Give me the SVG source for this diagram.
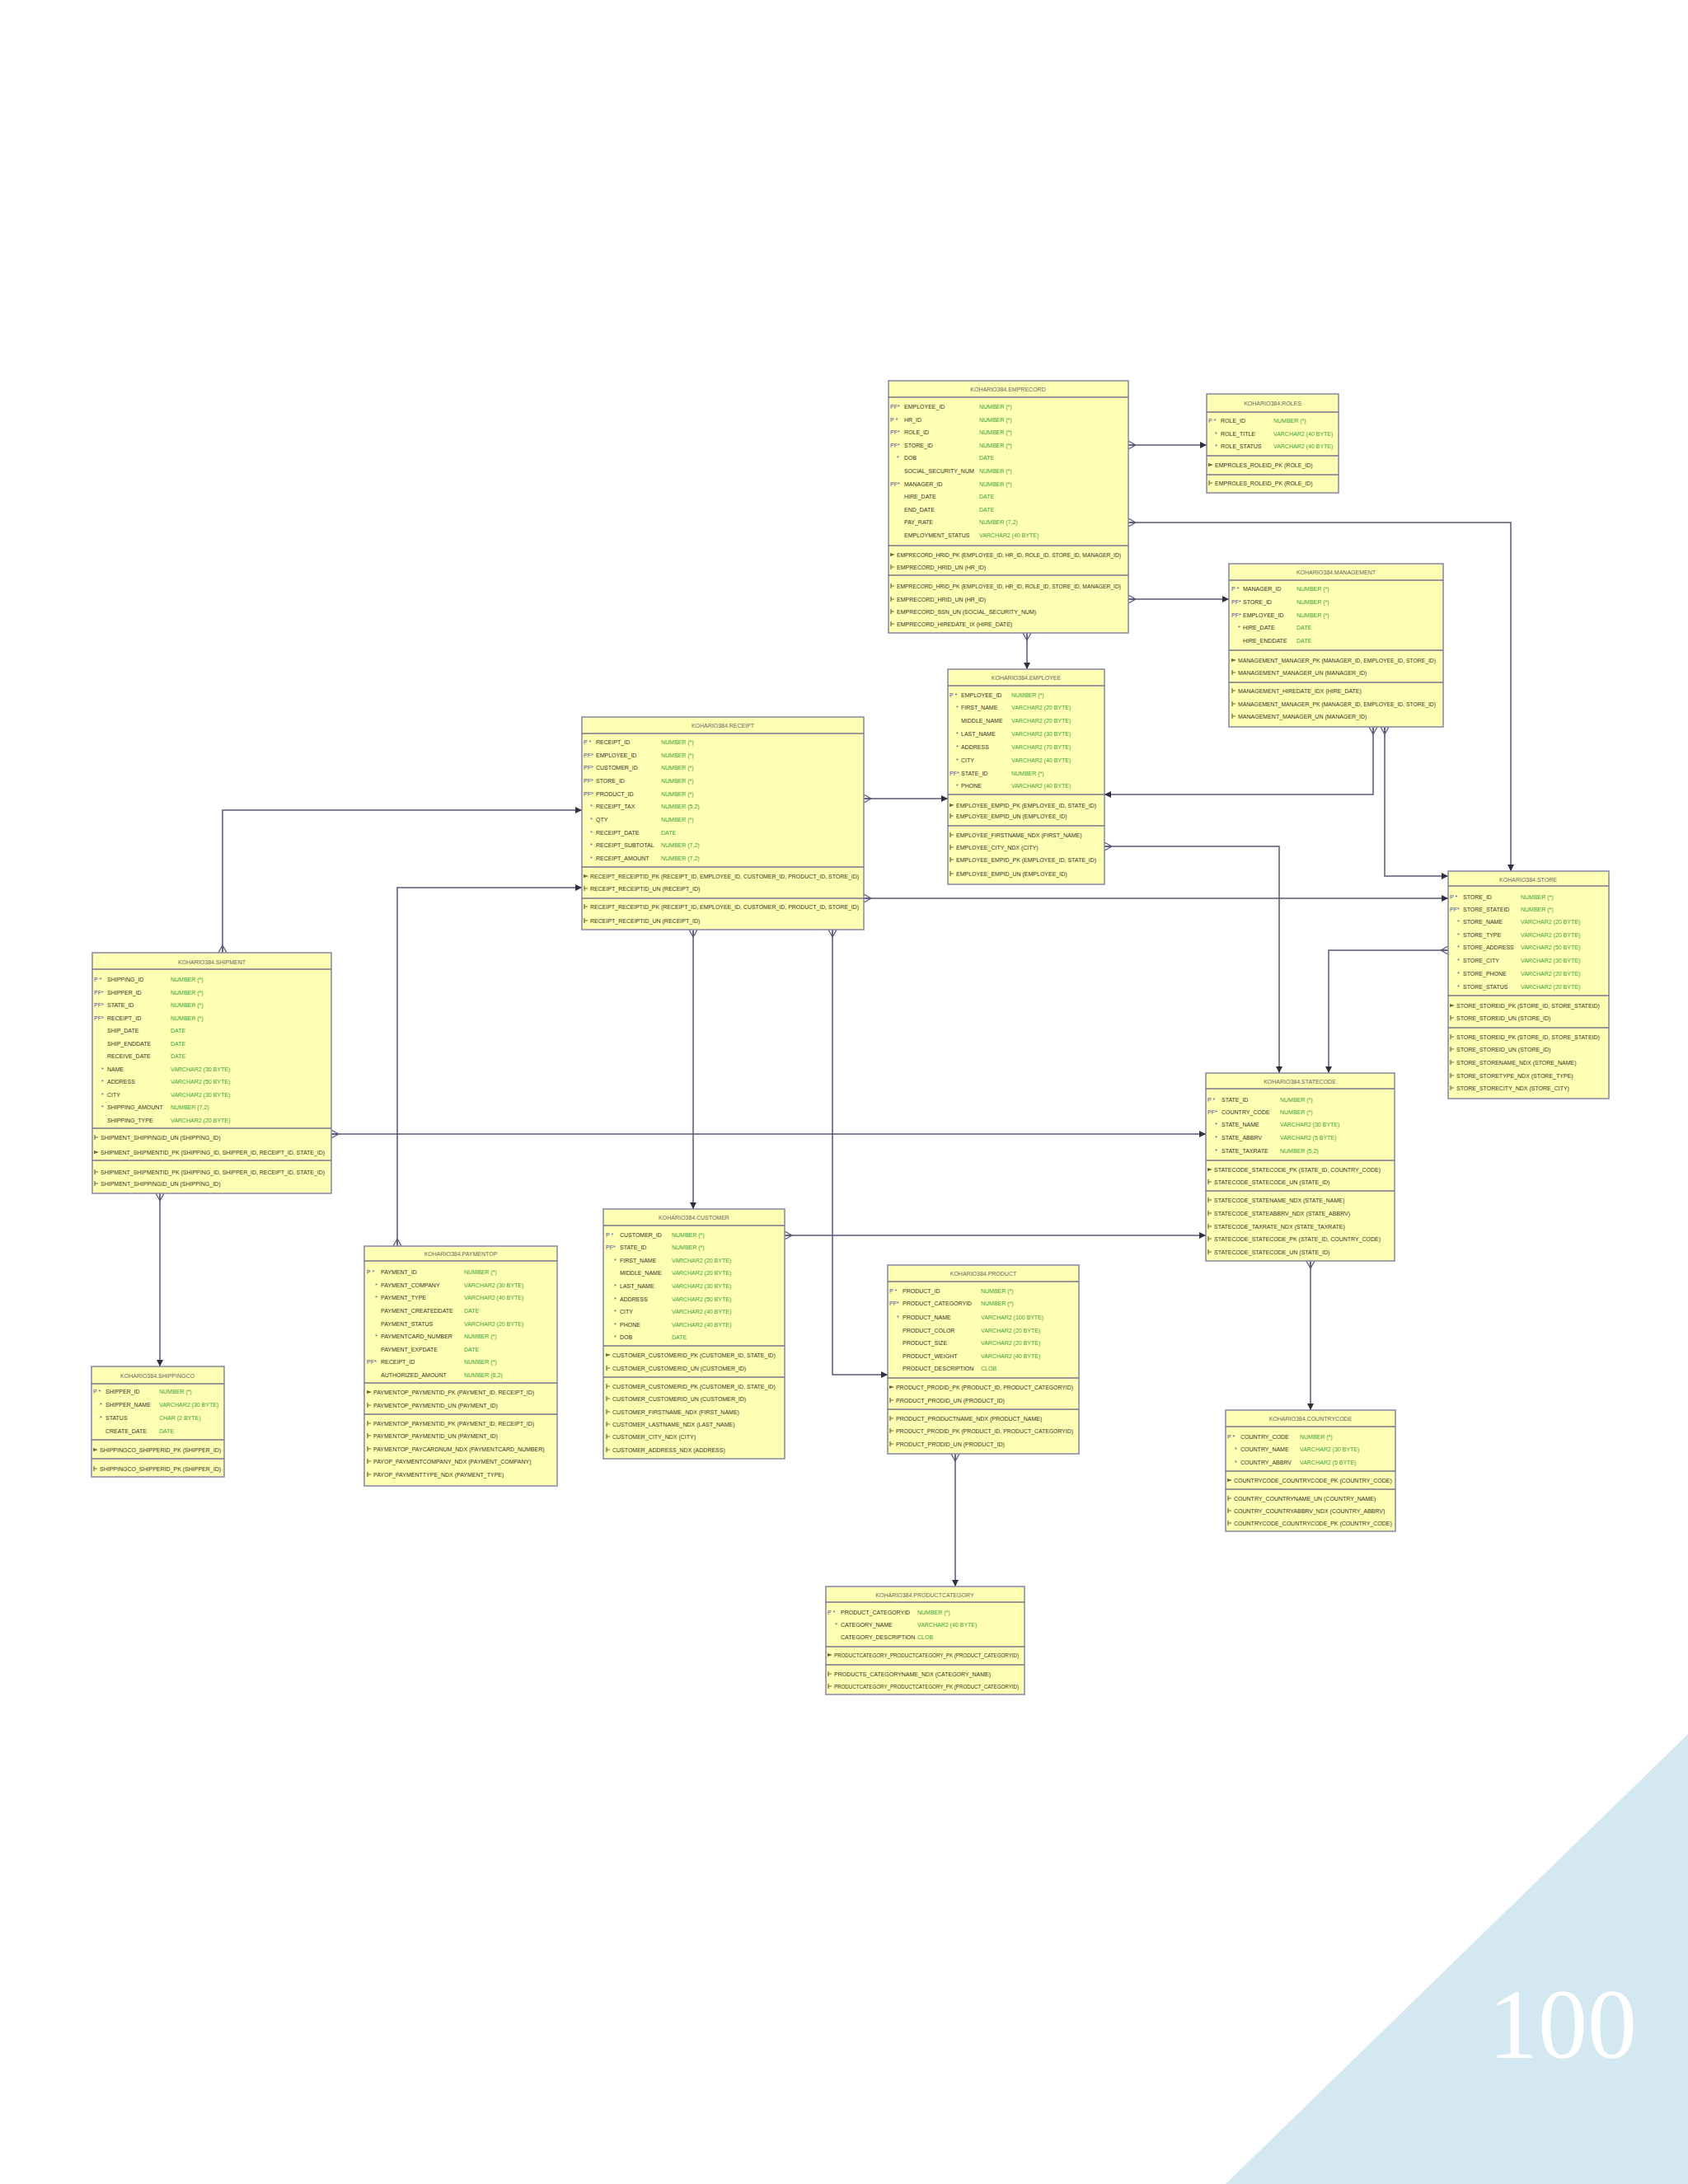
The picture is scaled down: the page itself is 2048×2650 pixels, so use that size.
<svg xmlns="http://www.w3.org/2000/svg" xmlns:xlink="http://www.w3.org/1999/xlink" width="2048" height="2650" viewBox="0 0 2048 2650">
<style>
.box{fill:#ffffb4;stroke:#8c8cab;stroke-width:1.6}
.sep{stroke:#76768a;stroke-width:1.5}
text{font-family:"Liberation Sans",Arial,sans-serif;font-size:7px}
.ti{fill:#666;text-anchor:middle}
.n{fill:#33331f}
.ty{fill:#3aa03a}
.p{fill:#4a4aa0}
.k{fill:#33331f}
.conn path{fill:none;stroke:#585878;stroke-width:1.5}
</style>
<defs>
<marker id="crow" markerUnits="userSpaceOnUse" markerWidth="14" markerHeight="14" refX="0" refY="7" orient="auto" viewBox="0 0 14 14"><path d="M9,7 L0,2 M9,7 L0,12 M9,7 L0,7" stroke="#585878" stroke-width="1.3" fill="none"/></marker>
<marker id="dot" markerUnits="userSpaceOnUse" markerWidth="10" markerHeight="10" refX="9" refY="5" orient="auto" viewBox="0 0 10 10"><path d="M1,1 L9,5 L1,9 Z" fill="#303040"/></marker>
<symbol id="ki" viewBox="0 0 6 6" width="6" height="6"><path d="M0,1 L6,3 L0,5 Z" fill="#6a6a3a"/></symbol>
<symbol id="ui" viewBox="0 0 6 6" width="6" height="6"><path d="M1,0 V6 M1,3 H5" stroke="#6a6a3a" stroke-width="1.2"/></symbol>
</defs>
<rect width="2048" height="2650" fill="#ffffff"/>

<g class="conn" id="connectors">
<path d="M1369,540 H1464" marker-start="url(#crow)" marker-end="url(#dot)"/>
<path d="M1369,634 H1833 V1057" marker-start="url(#crow)" marker-end="url(#dot)"/>
<path d="M1369,727 H1491" marker-start="url(#crow)" marker-end="url(#dot)"/>
<path d="M1246,768 V812" marker-start="url(#crow)" marker-end="url(#dot)"/>
<path d="M1666,882 V964 H1340" marker-start="url(#crow)" marker-end="url(#dot)"/>
<path d="M1680,882 V1063 H1757" marker-start="url(#crow)" marker-end="url(#dot)"/>
<path d="M1048,969 H1150" marker-start="url(#crow)" marker-end="url(#dot)"/>
<path d="M1048,1090 H1757" marker-start="url(#crow)" marker-end="url(#dot)"/>
<path d="M270,1156 V983 H706" marker-start="url(#crow)" marker-end="url(#dot)"/>
<path d="M482,1512 V1077 H706" marker-start="url(#crow)" marker-end="url(#dot)"/>
<path d="M841,1128 V1467" marker-start="url(#crow)" marker-end="url(#dot)"/>
<path d="M1010,1128 V1668 H1077" marker-start="url(#crow)" marker-end="url(#dot)"/>
<path d="M1340,1027 H1552 V1302" marker-start="url(#crow)" marker-end="url(#dot)"/>
<path d="M1757,1153 H1612 V1302" marker-start="url(#crow)" marker-end="url(#dot)"/>
<path d="M402,1376 H1463" marker-start="url(#crow)" marker-end="url(#dot)"/>
<path d="M952,1499 H1463" marker-start="url(#crow)" marker-end="url(#dot)"/>
<path d="M1590,1530 V1711" marker-start="url(#crow)" marker-end="url(#dot)"/>
<path d="M194,1448 V1658" marker-start="url(#crow)" marker-end="url(#dot)"/>
<path d="M1159,1764 V1925" marker-start="url(#crow)" marker-end="url(#dot)"/>
</g>

<g id="emprecord">
<rect class="box" x="1078" y="462" width="291" height="306"/>
<line class="sep" x1="1078" y1="482" x2="1369" y2="482"/>
<text class="ti" x="1223" y="475">KOHARIO384.EMPRECORD</text>
<text class="p" x="1080" y="496">PF*</text><text class="n" x="1097" y="496">EMPLOYEE_ID</text><text class="ty" x="1188" y="496">NUMBER (*)</text>
<text class="p" x="1080" y="512">P *</text><text class="n" x="1097" y="512">HR_ID</text><text class="ty" x="1188" y="512">NUMBER (*)</text>
<text class="p" x="1080" y="527">PF*</text><text class="n" x="1097" y="527">ROLE_ID</text><text class="ty" x="1188" y="527">NUMBER (*)</text>
<text class="p" x="1080" y="543">PF*</text><text class="n" x="1097" y="543">STORE_ID</text><text class="ty" x="1188" y="543">NUMBER (*)</text>
<text class="p" x="1088" y="558">*</text><text class="n" x="1097" y="558">DOB</text><text class="ty" x="1188" y="558">DATE</text>
<text class="n" x="1097" y="574">SOCIAL_SECURITY_NUM</text><text class="ty" x="1188" y="574">NUMBER (*)</text>
<text class="p" x="1080" y="590">PF*</text><text class="n" x="1097" y="590">MANAGER_ID</text><text class="ty" x="1188" y="590">NUMBER (*)</text>
<text class="n" x="1097" y="605">HIRE_DATE</text><text class="ty" x="1188" y="605">DATE</text>
<text class="n" x="1097" y="621">END_DATE</text><text class="ty" x="1188" y="621">DATE</text>
<text class="n" x="1097" y="636">PAY_RATE</text><text class="ty" x="1188" y="636">NUMBER (7,2)</text>
<text class="n" x="1097" y="652">EMPLOYMENT_STATUS</text><text class="ty" x="1188" y="652">VARCHAR2 (40 BYTE)</text>
<line class="sep" x1="1078" y1="662" x2="1369" y2="662"/>
<use href="#ki" x="1080" y="670"/><text class="k" x="1088" y="676" textLength="272" lengthAdjust="spacingAndGlyphs">EMPRECORD_HRID_PK (EMPLOYEE_ID, HR_ID, ROLE_ID, STORE_ID, MANAGER_ID)</text>
<use href="#ui" x="1080" y="685"/><text class="k" x="1088" y="691">EMPRECORD_HRID_UN (HR_ID)</text>
<line class="sep" x1="1078" y1="698" x2="1369" y2="698"/>
<use href="#ui" x="1080" y="708"/><text class="k" x="1088" y="714" textLength="272" lengthAdjust="spacingAndGlyphs">EMPRECORD_HRID_PK (EMPLOYEE_ID, HR_ID, ROLE_ID, STORE_ID, MANAGER_ID)</text>
<use href="#ui" x="1080" y="724"/><text class="k" x="1088" y="730">EMPRECORD_HRID_UN (HR_ID)</text>
<use href="#ui" x="1080" y="739"/><text class="k" x="1088" y="745">EMPRECORD_SSN_UN (SOCIAL_SECURITY_NUM)</text>
<use href="#ui" x="1080" y="754"/><text class="k" x="1088" y="760">EMPRECORD_HIREDATE_IX (HIRE_DATE)</text>
</g>

<g id="roles">
<rect class="box" x="1464" y="478" width="160" height="120"/>
<line class="sep" x1="1464" y1="500" x2="1624" y2="500"/>
<text class="ti" x="1544" y="492">KOHARIO384.ROLES</text>
<text class="p" x="1466" y="513">P *</text><text class="n" x="1481" y="513">ROLE_ID</text><text class="ty" x="1545" y="513">NUMBER (*)</text>
<text class="p" x="1474" y="529">*</text><text class="n" x="1481" y="529">ROLE_TITLE</text><text class="ty" x="1545" y="529">VARCHAR2 (40 BYTE)</text>
<text class="p" x="1474" y="544">*</text><text class="n" x="1481" y="544">ROLE_STATUS</text><text class="ty" x="1545" y="544">VARCHAR2 (40 BYTE)</text>
<line class="sep" x1="1464" y1="553" x2="1624" y2="553"/>
<use href="#ki" x="1466" y="561"/><text class="k" x="1474" y="567">EMPROLES_ROLEID_PK (ROLE_ID)</text>
<line class="sep" x1="1464" y1="576" x2="1624" y2="576"/>
<use href="#ui" x="1466" y="583"/><text class="k" x="1474" y="589">EMPROLES_ROLEID_PK (ROLE_ID)</text>
</g>

<g id="management">
<rect class="box" x="1491" y="684" width="260" height="198"/>
<line class="sep" x1="1491" y1="704" x2="1751" y2="704"/>
<text class="ti" x="1621" y="697">KOHARIO384.MANAGEMENT</text>
<text class="p" x="1494" y="717">P *</text><text class="n" x="1508" y="717">MANAGER_ID</text><text class="ty" x="1573" y="717">NUMBER (*)</text>
<text class="p" x="1494" y="733">PF*</text><text class="n" x="1508" y="733">STORE_ID</text><text class="ty" x="1573" y="733">NUMBER (*)</text>
<text class="p" x="1494" y="749">PF*</text><text class="n" x="1508" y="749">EMPLOYEE_ID</text><text class="ty" x="1573" y="749">NUMBER (*)</text>
<text class="p" x="1502" y="764">*</text><text class="n" x="1508" y="764">HIRE_DATE</text><text class="ty" x="1573" y="764">DATE</text>
<text class="n" x="1508" y="780">HIRE_ENDDATE</text><text class="ty" x="1573" y="780">DATE</text>
<line class="sep" x1="1491" y1="789" x2="1751" y2="789"/>
<use href="#ki" x="1494" y="798"/><text class="k" x="1502" y="804" textLength="240" lengthAdjust="spacingAndGlyphs">MANAGEMENT_MANAGER_PK (MANAGER_ID, EMPLOYEE_ID, STORE_ID)</text>
<use href="#ui" x="1494" y="813"/><text class="k" x="1502" y="819">MANAGEMENT_MANAGER_UN (MANAGER_ID)</text>
<line class="sep" x1="1491" y1="828" x2="1751" y2="828"/>
<use href="#ui" x="1494" y="835"/><text class="k" x="1502" y="841">MANAGEMENT_HIREDATE_IDX (HIRE_DATE)</text>
<use href="#ui" x="1494" y="851"/><text class="k" x="1502" y="857" textLength="240" lengthAdjust="spacingAndGlyphs">MANAGEMENT_MANAGER_PK (MANAGER_ID, EMPLOYEE_ID, STORE_ID)</text>
<use href="#ui" x="1494" y="866"/><text class="k" x="1502" y="872">MANAGEMENT_MANAGER_UN (MANAGER_ID)</text>
</g>

<g id="employee">
<rect class="box" x="1150" y="812" width="190" height="261"/>
<line class="sep" x1="1150" y1="832" x2="1340" y2="832"/>
<text class="ti" x="1245" y="825">KOHARIO384.EMPLOYEE</text>
<text class="p" x="1152" y="846">P *</text><text class="n" x="1166" y="846">EMPLOYEE_ID</text><text class="ty" x="1227" y="846">NUMBER (*)</text>
<text class="p" x="1160" y="861">*</text><text class="n" x="1166" y="861">FIRST_NAME</text><text class="ty" x="1227" y="861">VARCHAR2 (20 BYTE)</text>
<text class="n" x="1166" y="877">MIDDLE_NAME</text><text class="ty" x="1227" y="877">VARCHAR2 (20 BYTE)</text>
<text class="p" x="1160" y="893">*</text><text class="n" x="1166" y="893">LAST_NAME</text><text class="ty" x="1227" y="893">VARCHAR2 (30 BYTE)</text>
<text class="p" x="1160" y="909">*</text><text class="n" x="1166" y="909">ADDRESS</text><text class="ty" x="1227" y="909">VARCHAR2 (70 BYTE)</text>
<text class="p" x="1160" y="925">*</text><text class="n" x="1166" y="925">CITY</text><text class="ty" x="1227" y="925">VARCHAR2 (40 BYTE)</text>
<text class="p" x="1152" y="941">PF*</text><text class="n" x="1166" y="941">STATE_ID</text><text class="ty" x="1227" y="941">NUMBER (*)</text>
<text class="p" x="1160" y="956">*</text><text class="n" x="1166" y="956">PHONE</text><text class="ty" x="1227" y="956">VARCHAR2 (40 BYTE)</text>
<line class="sep" x1="1150" y1="964" x2="1340" y2="964"/>
<use href="#ki" x="1152" y="974"/><text class="k" x="1160" y="980">EMPLOYEE_EMPID_PK (EMPLOYEE_ID, STATE_ID)</text>
<use href="#ui" x="1152" y="987"/><text class="k" x="1160" y="993">EMPLOYEE_EMPID_UN (EMPLOYEE_ID)</text>
<line class="sep" x1="1150" y1="1002" x2="1340" y2="1002"/>
<use href="#ui" x="1152" y="1010"/><text class="k" x="1160" y="1016">EMPLOYEE_FIRSTNAME_NDX (FIRST_NAME)</text>
<use href="#ui" x="1152" y="1025"/><text class="k" x="1160" y="1031">EMPLOYEE_CITY_NDX (CITY)</text>
<use href="#ui" x="1152" y="1040"/><text class="k" x="1160" y="1046">EMPLOYEE_EMPID_PK (EMPLOYEE_ID, STATE_ID)</text>
<use href="#ui" x="1152" y="1057"/><text class="k" x="1160" y="1063">EMPLOYEE_EMPID_UN (EMPLOYEE_ID)</text>
</g>

<g id="receipt">
<rect class="box" x="706" y="870" width="342" height="258"/>
<line class="sep" x1="706" y1="890" x2="1048" y2="890"/>
<text class="ti" x="877" y="883">KOHARIO384.RECEIPT</text>
<text class="p" x="708" y="903">P *</text><text class="n" x="723" y="903">RECEIPT_ID</text><text class="ty" x="802" y="903">NUMBER (*)</text>
<text class="p" x="708" y="919">PF*</text><text class="n" x="723" y="919">EMPLOYEE_ID</text><text class="ty" x="802" y="919">NUMBER (*)</text>
<text class="p" x="708" y="934">PF*</text><text class="n" x="723" y="934">CUSTOMER_ID</text><text class="ty" x="802" y="934">NUMBER (*)</text>
<text class="p" x="708" y="950">PF*</text><text class="n" x="723" y="950">STORE_ID</text><text class="ty" x="802" y="950">NUMBER (*)</text>
<text class="p" x="708" y="966">PF*</text><text class="n" x="723" y="966">PRODUCT_ID</text><text class="ty" x="802" y="966">NUMBER (*)</text>
<text class="p" x="716" y="981">*</text><text class="n" x="723" y="981">RECEIPT_TAX</text><text class="ty" x="802" y="981">NUMBER (5,2)</text>
<text class="p" x="716" y="997">*</text><text class="n" x="723" y="997">QTY</text><text class="ty" x="802" y="997">NUMBER (*)</text>
<text class="p" x="716" y="1013">*</text><text class="n" x="723" y="1013">RECEIPT_DATE</text><text class="ty" x="802" y="1013">DATE</text>
<text class="p" x="716" y="1028">*</text><text class="n" x="723" y="1028">RECEIPT_SUBTOTAL</text><text class="ty" x="802" y="1028">NUMBER (7,2)</text>
<text class="p" x="716" y="1044">*</text><text class="n" x="723" y="1044">RECEIPT_AMOUNT</text><text class="ty" x="802" y="1044">NUMBER (7,2)</text>
<line class="sep" x1="706" y1="1052" x2="1048" y2="1052"/>
<use href="#ki" x="708" y="1060"/><text class="k" x="716" y="1066" textLength="326" lengthAdjust="spacingAndGlyphs">RECEIPT_RECEIPTID_PK (RECEIPT_ID, EMPLOYEE_ID, CUSTOMER_ID, PRODUCT_ID, STORE_ID)</text>
<use href="#ui" x="708" y="1075"/><text class="k" x="716" y="1081">RECEIPT_RECEIPTID_UN (RECEIPT_ID)</text>
<line class="sep" x1="706" y1="1090" x2="1048" y2="1090"/>
<use href="#ui" x="708" y="1097"/><text class="k" x="716" y="1103" textLength="326" lengthAdjust="spacingAndGlyphs">RECEIPT_RECEIPTID_PK (RECEIPT_ID, EMPLOYEE_ID, CUSTOMER_ID, PRODUCT_ID, STORE_ID)</text>
<use href="#ui" x="708" y="1114"/><text class="k" x="716" y="1120">RECEIPT_RECEIPTID_UN (RECEIPT_ID)</text>
</g>

<g id="store">
<rect class="box" x="1757" y="1057" width="195" height="276"/>
<line class="sep" x1="1757" y1="1075" x2="1952" y2="1075"/>
<text class="ti" x="1854" y="1070">KOHARIO384.STORE</text>
<text class="p" x="1759" y="1091">P *</text><text class="n" x="1775" y="1091">STORE_ID</text><text class="ty" x="1845" y="1091">NUMBER (*)</text>
<text class="p" x="1759" y="1106">PF*</text><text class="n" x="1775" y="1106">STORE_STATEID</text><text class="ty" x="1845" y="1106">NUMBER (*)</text>
<text class="p" x="1768" y="1121">*</text><text class="n" x="1775" y="1121">STORE_NAME</text><text class="ty" x="1845" y="1121">VARCHAR2 (20 BYTE)</text>
<text class="p" x="1768" y="1137">*</text><text class="n" x="1775" y="1137">STORE_TYPE</text><text class="ty" x="1845" y="1137">VARCHAR2 (20 BYTE)</text>
<text class="p" x="1768" y="1152">*</text><text class="n" x="1775" y="1152">STORE_ADDRESS</text><text class="ty" x="1845" y="1152">VARCHAR2 (50 BYTE)</text>
<text class="p" x="1768" y="1168">*</text><text class="n" x="1775" y="1168">STORE_CITY</text><text class="ty" x="1845" y="1168">VARCHAR2 (30 BYTE)</text>
<text class="p" x="1768" y="1184">*</text><text class="n" x="1775" y="1184">STORE_PHONE</text><text class="ty" x="1845" y="1184">VARCHAR2 (20 BYTE)</text>
<text class="p" x="1768" y="1200">*</text><text class="n" x="1775" y="1200">STORE_STATUS</text><text class="ty" x="1845" y="1200">VARCHAR2 (20 BYTE)</text>
<line class="sep" x1="1757" y1="1208" x2="1952" y2="1208"/>
<use href="#ki" x="1759" y="1217"/><text class="k" x="1767" y="1223">STORE_STOREID_PK (STORE_ID, STORE_STATEID)</text>
<use href="#ui" x="1759" y="1232"/><text class="k" x="1767" y="1238">STORE_STOREID_UN (STORE_ID)</text>
<line class="sep" x1="1757" y1="1247" x2="1952" y2="1247"/>
<use href="#ui" x="1759" y="1255"/><text class="k" x="1767" y="1261">STORE_STOREID_PK (STORE_ID, STORE_STATEID)</text>
<use href="#ui" x="1759" y="1270"/><text class="k" x="1767" y="1276">STORE_STOREID_UN (STORE_ID)</text>
<use href="#ui" x="1759" y="1286"/><text class="k" x="1767" y="1292">STORE_STORENAME_NDX (STORE_NAME)</text>
<use href="#ui" x="1759" y="1302"/><text class="k" x="1767" y="1308">STORE_STORETYPE_NDX (STORE_TYPE)</text>
<use href="#ui" x="1759" y="1317"/><text class="k" x="1767" y="1323">STORE_STORECITY_NDX (STORE_CITY)</text>
</g>

<g id="shipment">
<rect class="box" x="112" y="1156" width="290" height="292"/>
<line class="sep" x1="112" y1="1176" x2="402" y2="1176"/>
<text class="ti" x="257" y="1170">KOHARIO384.SHIPMENT</text>
<text class="p" x="114" y="1191">P *</text><text class="n" x="130" y="1191">SHIPPING_ID</text><text class="ty" x="207" y="1191">NUMBER (*)</text>
<text class="p" x="114" y="1207">PF*</text><text class="n" x="130" y="1207">SHIPPER_ID</text><text class="ty" x="207" y="1207">NUMBER (*)</text>
<text class="p" x="114" y="1222">PF*</text><text class="n" x="130" y="1222">STATE_ID</text><text class="ty" x="207" y="1222">NUMBER (*)</text>
<text class="p" x="114" y="1238">PF*</text><text class="n" x="130" y="1238">RECEIPT_ID</text><text class="ty" x="207" y="1238">NUMBER (*)</text>
<text class="n" x="130" y="1253">SHIP_DATE</text><text class="ty" x="207" y="1253">DATE</text>
<text class="n" x="130" y="1269">SHIP_ENDDATE</text><text class="ty" x="207" y="1269">DATE</text>
<text class="n" x="130" y="1284">RECEIVE_DATE</text><text class="ty" x="207" y="1284">DATE</text>
<text class="p" x="123" y="1300">*</text><text class="n" x="130" y="1300">NAME</text><text class="ty" x="207" y="1300">VARCHAR2 (30 BYTE)</text>
<text class="p" x="123" y="1315">*</text><text class="n" x="130" y="1315">ADDRESS</text><text class="ty" x="207" y="1315">VARCHAR2 (50 BYTE)</text>
<text class="p" x="123" y="1331">*</text><text class="n" x="130" y="1331">CITY</text><text class="ty" x="207" y="1331">VARCHAR2 (30 BYTE)</text>
<text class="p" x="123" y="1346">*</text><text class="n" x="130" y="1346">SHIPPING_AMOUNT</text><text class="ty" x="207" y="1346">NUMBER (7,2)</text>
<text class="n" x="130" y="1362">SHIPPING_TYPE</text><text class="ty" x="207" y="1362">VARCHAR2 (20 BYTE)</text>
<line class="sep" x1="112" y1="1369" x2="402" y2="1369"/>
<use href="#ui" x="114" y="1377"/><text class="k" x="122" y="1383">SHIPMENT_SHIPPINGID_UN (SHIPPING_ID)</text>
<use href="#ki" x="114" y="1395"/><text class="k" x="122" y="1401" textLength="272" lengthAdjust="spacingAndGlyphs">SHIPMENT_SHIPMENTID_PK (SHIPPING_ID, SHIPPER_ID, RECEIPT_ID, STATE_ID)</text>
<line class="sep" x1="112" y1="1408" x2="402" y2="1408"/>
<use href="#ui" x="114" y="1419"/><text class="k" x="122" y="1425" textLength="272" lengthAdjust="spacingAndGlyphs">SHIPMENT_SHIPMENTID_PK (SHIPPING_ID, SHIPPER_ID, RECEIPT_ID, STATE_ID)</text>
<use href="#ui" x="114" y="1433"/><text class="k" x="122" y="1439">SHIPMENT_SHIPPINGID_UN (SHIPPING_ID)</text>
</g>

<g id="statecode">
<rect class="box" x="1463" y="1302" width="229" height="228"/>
<line class="sep" x1="1463" y1="1321" x2="1692" y2="1321"/>
<text class="ti" x="1577" y="1315">KOHARIO384.STATECODE</text>
<text class="p" x="1465" y="1337">P *</text><text class="n" x="1482" y="1337">STATE_ID</text><text class="ty" x="1553" y="1337">NUMBER (*)</text>
<text class="p" x="1465" y="1352">PF*</text><text class="n" x="1482" y="1352">COUNTRY_CODE</text><text class="ty" x="1553" y="1352">NUMBER (*)</text>
<text class="p" x="1474" y="1367">*</text><text class="n" x="1482" y="1367">STATE_NAME</text><text class="ty" x="1553" y="1367">VARCHAR2 (30 BYTE)</text>
<text class="p" x="1474" y="1383">*</text><text class="n" x="1482" y="1383">STATE_ABBRV</text><text class="ty" x="1553" y="1383">VARCHAR2 (5 BYTE)</text>
<text class="p" x="1474" y="1399">*</text><text class="n" x="1482" y="1399">STATE_TAXRATE</text><text class="ty" x="1553" y="1399">NUMBER (5,2)</text>
<line class="sep" x1="1463" y1="1408" x2="1692" y2="1408"/>
<use href="#ki" x="1465" y="1416"/><text class="k" x="1473" y="1422">STATECODE_STATECODE_PK (STATE_ID, COUNTRY_CODE)</text>
<use href="#ui" x="1465" y="1431"/><text class="k" x="1473" y="1437">STATECODE_STATECODE_UN (STATE_ID)</text>
<line class="sep" x1="1463" y1="1445" x2="1692" y2="1445"/>
<use href="#ui" x="1465" y="1453"/><text class="k" x="1473" y="1459">STATECODE_STATENAME_NDX (STATE_NAME)</text>
<use href="#ui" x="1465" y="1469"/><text class="k" x="1473" y="1475">STATECODE_STATEABBRV_NDX (STATE_ABBRV)</text>
<use href="#ui" x="1465" y="1485"/><text class="k" x="1473" y="1491">STATECODE_TAXRATE_NDX (STATE_TAXRATE)</text>
<use href="#ui" x="1465" y="1500"/><text class="k" x="1473" y="1506">STATECODE_STATECODE_PK (STATE_ID, COUNTRY_CODE)</text>
<use href="#ui" x="1465" y="1516"/><text class="k" x="1473" y="1522">STATECODE_STATECODE_UN (STATE_ID)</text>
</g>

<g id="customer">
<rect class="box" x="732" y="1467" width="220" height="303"/>
<line class="sep" x1="732" y1="1487" x2="952" y2="1487"/>
<text class="ti" x="842" y="1480">KOHARIO384.CUSTOMER</text>
<text class="p" x="735" y="1501">P *</text><text class="n" x="752" y="1501">CUSTOMER_ID</text><text class="ty" x="815" y="1501">NUMBER (*)</text>
<text class="p" x="735" y="1516">PF*</text><text class="n" x="752" y="1516">STATE_ID</text><text class="ty" x="815" y="1516">NUMBER (*)</text>
<text class="p" x="745" y="1532">*</text><text class="n" x="752" y="1532">FIRST_NAME</text><text class="ty" x="815" y="1532">VARCHAR2 (20 BYTE)</text>
<text class="n" x="752" y="1547">MIDDLE_NAME</text><text class="ty" x="815" y="1547">VARCHAR2 (20 BYTE)</text>
<text class="p" x="745" y="1563">*</text><text class="n" x="752" y="1563">LAST_NAME</text><text class="ty" x="815" y="1563">VARCHAR2 (30 BYTE)</text>
<text class="p" x="745" y="1579">*</text><text class="n" x="752" y="1579">ADDRESS</text><text class="ty" x="815" y="1579">VARCHAR2 (50 BYTE)</text>
<text class="p" x="745" y="1594">*</text><text class="n" x="752" y="1594">CITY</text><text class="ty" x="815" y="1594">VARCHAR2 (40 BYTE)</text>
<text class="p" x="745" y="1610">*</text><text class="n" x="752" y="1610">PHONE</text><text class="ty" x="815" y="1610">VARCHAR2 (40 BYTE)</text>
<text class="p" x="745" y="1625">*</text><text class="n" x="752" y="1625">DOB</text><text class="ty" x="815" y="1625">DATE</text>
<line class="sep" x1="732" y1="1633" x2="952" y2="1633"/>
<use href="#ki" x="735" y="1641"/><text class="k" x="743" y="1647">CUSTOMER_CUSTOMERID_PK (CUSTOMER_ID, STATE_ID)</text>
<use href="#ui" x="735" y="1657"/><text class="k" x="743" y="1663">CUSTOMER_CUSTOMERID_UN (CUSTOMER_ID)</text>
<line class="sep" x1="732" y1="1671" x2="952" y2="1671"/>
<use href="#ui" x="735" y="1679"/><text class="k" x="743" y="1685">CUSTOMER_CUSTOMERID_PK (CUSTOMER_ID, STATE_ID)</text>
<use href="#ui" x="735" y="1694"/><text class="k" x="743" y="1700">CUSTOMER_CUSTOMERID_UN (CUSTOMER_ID)</text>
<use href="#ui" x="735" y="1710"/><text class="k" x="743" y="1716">CUSTOMER_FIRSTNAME_NDX (FIRST_NAME)</text>
<use href="#ui" x="735" y="1725"/><text class="k" x="743" y="1731">CUSTOMER_LASTNAME_NDX (LAST_NAME)</text>
<use href="#ui" x="735" y="1740"/><text class="k" x="743" y="1746">CUSTOMER_CITY_NDX (CITY)</text>
<use href="#ui" x="735" y="1756"/><text class="k" x="743" y="1762">CUSTOMER_ADDRESS_NDX (ADDRESS)</text>
</g>

<g id="paymentop">
<rect class="box" x="442" y="1512" width="234" height="291"/>
<line class="sep" x1="442" y1="1530" x2="676" y2="1530"/>
<text class="ti" x="559" y="1524">KOHARIO384.PAYMENTOP</text>
<text class="p" x="445" y="1546">P *</text><text class="n" x="462" y="1546">PAYMENT_ID</text><text class="ty" x="563" y="1546">NUMBER (*)</text>
<text class="p" x="455" y="1562">*</text><text class="n" x="462" y="1562">PAYMENT_COMPANY</text><text class="ty" x="563" y="1562">VARCHAR2 (30 BYTE)</text>
<text class="p" x="455" y="1577">*</text><text class="n" x="462" y="1577">PAYMENT_TYPE</text><text class="ty" x="563" y="1577">VARCHAR2 (40 BYTE)</text>
<text class="n" x="462" y="1593">PAYMENT_CREATEDDATE</text><text class="ty" x="563" y="1593">DATE</text>
<text class="n" x="462" y="1609">PAYMENT_STATUS</text><text class="ty" x="563" y="1609">VARCHAR2 (20 BYTE)</text>
<text class="p" x="455" y="1624">*</text><text class="n" x="462" y="1624">PAYMENTCARD_NUMBER</text><text class="ty" x="563" y="1624">NUMBER (*)</text>
<text class="n" x="462" y="1640">PAYMENT_EXPDATE</text><text class="ty" x="563" y="1640">DATE</text>
<text class="p" x="445" y="1655">PF*</text><text class="n" x="462" y="1655">RECEIPT_ID</text><text class="ty" x="563" y="1655">NUMBER (*)</text>
<text class="n" x="462" y="1671">AUTHORIZED_AMOUNT</text><text class="ty" x="563" y="1671">NUMBER (8,2)</text>
<line class="sep" x1="442" y1="1678" x2="676" y2="1678"/>
<use href="#ki" x="445" y="1686"/><text class="k" x="453" y="1692">PAYMENTOP_PAYMENTID_PK (PAYMENT_ID, RECEIPT_ID)</text>
<use href="#ui" x="445" y="1702"/><text class="k" x="453" y="1708">PAYMENTOP_PAYMENTID_UN (PAYMENT_ID)</text>
<line class="sep" x1="442" y1="1716" x2="676" y2="1716"/>
<use href="#ui" x="445" y="1724"/><text class="k" x="453" y="1730">PAYMENTOP_PAYMENTID_PK (PAYMENT_ID, RECEIPT_ID)</text>
<use href="#ui" x="445" y="1739"/><text class="k" x="453" y="1745">PAYMENTOP_PAYMENTID_UN (PAYMENT_ID)</text>
<use href="#ui" x="445" y="1755"/><text class="k" x="453" y="1761">PAYMENTOP_PAYCARDNUM_NDX (PAYMENTCARD_NUMBER)</text>
<use href="#ui" x="445" y="1770"/><text class="k" x="453" y="1776">PAYOP_PAYMENTCOMPANY_NDX (PAYMENT_COMPANY)</text>
<use href="#ui" x="445" y="1786"/><text class="k" x="453" y="1792">PAYOP_PAYMENTTYPE_NDX (PAYMENT_TYPE)</text>
</g>

<g id="product">
<rect class="box" x="1077" y="1535" width="232" height="229"/>
<line class="sep" x1="1077" y1="1555" x2="1309" y2="1555"/>
<text class="ti" x="1193" y="1548">KOHARIO384.PRODUCT</text>
<text class="p" x="1079" y="1569">P *</text><text class="n" x="1095" y="1569">PRODUCT_ID</text><text class="ty" x="1190" y="1569">NUMBER (*)</text>
<text class="p" x="1079" y="1584">PF*</text><text class="n" x="1095" y="1584">PRODUCT_CATEGORYID</text><text class="ty" x="1190" y="1584">NUMBER (*)</text>
<text class="p" x="1088" y="1601">*</text><text class="n" x="1095" y="1601">PRODUCT_NAME</text><text class="ty" x="1190" y="1601">VARCHAR2 (100 BYTE)</text>
<text class="n" x="1095" y="1617">PRODUCT_COLOR</text><text class="ty" x="1190" y="1617">VARCHAR2 (20 BYTE)</text>
<text class="n" x="1095" y="1632">PRODUCT_SIZE</text><text class="ty" x="1190" y="1632">VARCHAR2 (20 BYTE)</text>
<text class="n" x="1095" y="1648">PRODUCT_WEIGHT</text><text class="ty" x="1190" y="1648">VARCHAR2 (40 BYTE)</text>
<text class="n" x="1095" y="1663">PRODUCT_DESCRIPTION</text><text class="ty" x="1190" y="1663">CLOB</text>
<line class="sep" x1="1077" y1="1672" x2="1309" y2="1672"/>
<use href="#ki" x="1079" y="1680"/><text class="k" x="1087" y="1686" textLength="215" lengthAdjust="spacingAndGlyphs">PRODUCT_PRODID_PK (PRODUCT_ID, PRODUCT_CATEGORYID)</text>
<use href="#ui" x="1079" y="1696"/><text class="k" x="1087" y="1702">PRODUCT_PRODID_UN (PRODUCT_ID)</text>
<line class="sep" x1="1077" y1="1710" x2="1309" y2="1710"/>
<use href="#ui" x="1079" y="1718"/><text class="k" x="1087" y="1724">PRODUCT_PRODUCTNAME_NDX (PRODUCT_NAME)</text>
<use href="#ui" x="1079" y="1733"/><text class="k" x="1087" y="1739" textLength="215" lengthAdjust="spacingAndGlyphs">PRODUCT_PRODID_PK (PRODUCT_ID, PRODUCT_CATEGORYID)</text>
<use href="#ui" x="1079" y="1749"/><text class="k" x="1087" y="1755">PRODUCT_PRODID_UN (PRODUCT_ID)</text>
</g>

<g id="shippingco">
<rect class="box" x="111" y="1658" width="161" height="134"/>
<line class="sep" x1="111" y1="1679" x2="272" y2="1679"/>
<text class="ti" x="191" y="1672">KOHARIO384.SHIPPINGCO</text>
<text class="p" x="113" y="1691">P *</text><text class="n" x="128" y="1691">SHIPPER_ID</text><text class="ty" x="193" y="1691">NUMBER (*)</text>
<text class="p" x="121" y="1707">*</text><text class="n" x="128" y="1707">SHIPPER_NAME</text><text class="ty" x="193" y="1707">VARCHAR2 (30 BYTE)</text>
<text class="p" x="121" y="1723">*</text><text class="n" x="128" y="1723">STATUS</text><text class="ty" x="193" y="1723">CHAR (2 BYTE)</text>
<text class="n" x="128" y="1739">CREATE_DATE</text><text class="ty" x="193" y="1739">DATE</text>
<line class="sep" x1="111" y1="1747" x2="272" y2="1747"/>
<use href="#ki" x="113" y="1756"/><text class="k" x="121" y="1762">SHIPPINGCO_SHIPPERID_PK (SHIPPER_ID)</text>
<line class="sep" x1="111" y1="1770" x2="272" y2="1770"/>
<use href="#ui" x="113" y="1779"/><text class="k" x="121" y="1785">SHIPPINGCO_SHIPPERID_PK (SHIPPER_ID)</text>
</g>

<g id="countrycode">
<rect class="box" x="1487" y="1711" width="206" height="147"/>
<line class="sep" x1="1487" y1="1731" x2="1693" y2="1731"/>
<text class="ti" x="1590" y="1724">KOHARIO384.COUNTRYCODE</text>
<text class="p" x="1489" y="1746">P *</text><text class="n" x="1505" y="1746">COUNTRY_CODE</text><text class="ty" x="1577" y="1746">NUMBER (*)</text>
<text class="p" x="1498" y="1761">*</text><text class="n" x="1505" y="1761">COUNTRY_NAME</text><text class="ty" x="1577" y="1761">VARCHAR2 (30 BYTE)</text>
<text class="p" x="1498" y="1777">*</text><text class="n" x="1505" y="1777">COUNTRY_ABBRV</text><text class="ty" x="1577" y="1777">VARCHAR2 (5 BYTE)</text>
<line class="sep" x1="1487" y1="1785" x2="1693" y2="1785"/>
<use href="#ki" x="1489" y="1793"/><text class="k" x="1497" y="1799">COUNTRYCODE_COUNTRYCODE_PK (COUNTRY_CODE)</text>
<line class="sep" x1="1487" y1="1807" x2="1693" y2="1807"/>
<use href="#ui" x="1489" y="1815"/><text class="k" x="1497" y="1821">COUNTRY_COUNTRYNAME_UN (COUNTRY_NAME)</text>
<use href="#ui" x="1489" y="1830"/><text class="k" x="1497" y="1836">COUNTRY_COUNTRYABBRV_NDX (COUNTRY_ABBRV)</text>
<use href="#ui" x="1489" y="1845"/><text class="k" x="1497" y="1851">COUNTRYCODE_COUNTRYCODE_PK (COUNTRY_CODE)</text>
</g>

<g id="productcategory">
<rect class="box" x="1002" y="1925" width="241" height="131"/>
<line class="sep" x1="1002" y1="1944" x2="1243" y2="1944"/>
<text class="ti" x="1122" y="1938">KOHARIO384.PRODUCTCATEGORY</text>
<text class="p" x="1004" y="1959">P *</text><text class="n" x="1020" y="1959">PRODUCT_CATEGORYID</text><text class="ty" x="1113" y="1959">NUMBER (*)</text>
<text class="p" x="1013" y="1974">*</text><text class="n" x="1020" y="1974">CATEGORY_NAME</text><text class="ty" x="1113" y="1974">VARCHAR2 (40 BYTE)</text>
<text class="n" x="1020" y="1989">CATEGORY_DESCRIPTION</text><text class="ty" x="1113" y="1989">CLOB</text>
<line class="sep" x1="1002" y1="1998" x2="1243" y2="1998"/>
<use href="#ki" x="1004" y="2005"/><text class="k" x="1012" y="2011" textLength="224" lengthAdjust="spacingAndGlyphs">PRODUCTCATEGORY_PRODUCTCATEGORY_PK (PRODUCT_CATEGORYID)</text>
<line class="sep" x1="1002" y1="2020" x2="1243" y2="2020"/>
<use href="#ui" x="1004" y="2028"/><text class="k" x="1012" y="2034">PRODUCTS_CATEGORYNAME_NDX (CATEGORY_NAME)</text>
<use href="#ui" x="1004" y="2043"/><text class="k" x="1012" y="2049" textLength="224" lengthAdjust="spacingAndGlyphs">PRODUCTCATEGORY_PRODUCTCATEGORY_PK (PRODUCT_CATEGORYID)</text>
</g>

<g id="page-number">
<polygon points="1487,2650 2048,2104 2048,2650" fill="#d3e8f0"/>
<text x="1806" y="2497" style="font-family:'Liberation Serif','Times New Roman',serif;font-size:120px;fill:#ffffff">100</text>
</g>
</svg>
